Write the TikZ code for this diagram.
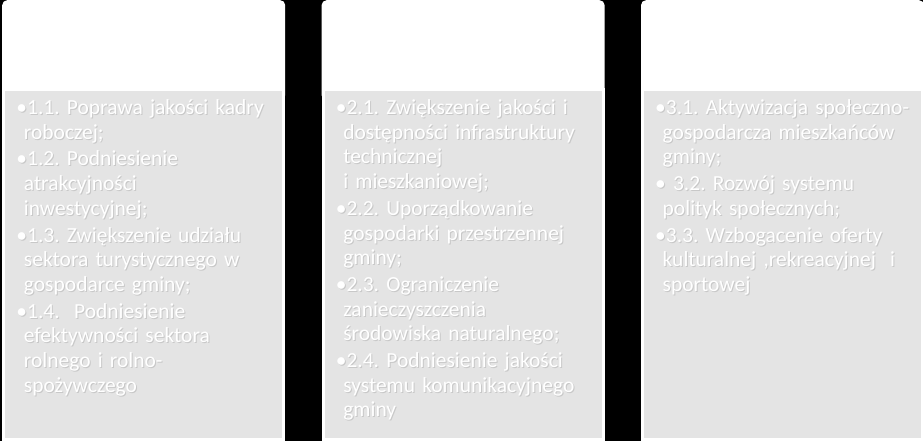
\documentclass[tikz,border=0pt]{standalone}
\usepackage{fontspec}
\setmainfont{Carlito}
\usetikzlibrary{positioning}
\definecolor{panel}{RGB}{228,228,228}
\definecolor{shade}{RGB}{200,200,200}
\tikzstyle{head} = [rectangle,fill=white,rounded corners=5pt,minimum width=283pt,minimum height=100pt,inner sep=0pt,anchor=north west]
\tikzstyle{bodybox} = [rectangle,fill=panel,draw=white,line width=3pt,minimum width=280pt,minimum height=350pt,inner sep=0pt]
\tikzstyle{items} = [text width=275pt,align=left,inner sep=0pt,anchor=north west,text=white,
  font=\fontsize{21.5pt}{24.7pt}\selectfont\frenchspacing]
\newcommand{\pkt}[1]{\setlength{\parindent}{0pt}\setlength{\parskip}{2pt}%
  \setlength{\hangindent}{7.5pt}\hangafter=1\relax #1\par}
\newcommand{\itemsA}{%
  \pkt{•1.1. Poprawa jakości kadry\newline roboczej;}%
  \pkt{•1.2. Podniesienie\newline atrakcyjności\newline inwestycyjnej;}%
  \pkt{•1.3. Zwiększenie udziału\newline sektora turystycznego w\newline gospodarce gminy;}%
  \pkt{•1.4.\ \ Podniesienie\newline efektywności sektora\newline rolnego i rolno-\newline spożywczego}}
\newcommand{\itemsB}{%
  \pkt{•2.1. Zwiększenie jakości i\newline dostępności infrastruktury\newline technicznej\newline i mieszkaniowej;}%
  \pkt{•2.2. Uporządkowanie\newline gospodarki przestrzennej\newline gminy;}%
  \pkt{•2.3. Ograniczenie\newline zanieczyszczenia\newline środowiska naturalnego;}%
  \pkt{•2.4. Podniesienie jakości\newline systemu komunikacyjnego\newline gminy}}
\newcommand{\itemsC}{%
  \pkt{•3.1. Aktywizacja społeczno-\newline gospodarcza mieszkańców\newline gminy;}%
  \pkt{•\ 3.2. Rozwój systemu\newline polityk społecznych;}%
  \pkt{•3.3. Wzbogacenie oferty\newline kulturalnej ,rekreacyjnej\ \ i\newline sportowej}}

\begin{document}
\begin{tikzpicture}[x=1pt,y=1pt]
	\fill[black] (0,0) rectangle (923,441);
	\useasboundingbox (0,0) rectangle (923,441);

	\node [head](h1) at (2,441){};
	\node [head,right=36pt of h1](h2){};
	\node [head,right=36pt of h2](h3){};

	\node [bodybox,below=-12.5pt of h1](b1){};
	\node [bodybox,below=-12.5pt of h2](b2){};
	\node [bodybox,below=-12.5pt of h3](b3){};

	% text with its grey shadow
	\node [items,text=shade] (s1) at ([xshift=15pt,yshift=-12.5pt]b1.north west){\itemsA};
	\node [items] (t1) at ([xshift=14pt,yshift=-11.5pt]b1.north west){\itemsA};
	\node [items,text=shade] (s2) at ([xshift=15pt,yshift=-12.5pt]b2.north west){\itemsB};
	\node [items] (t2) at ([xshift=14pt,yshift=-11.5pt]b2.north west){\itemsB};
	\node [items,text=shade] (s3) at ([xshift=15pt,yshift=-12.5pt]b3.north west){\itemsC};
	\node [items] (t3) at ([xshift=14pt,yshift=-11.5pt]b3.north west){\itemsC};
\end{tikzpicture}
\end{document}
